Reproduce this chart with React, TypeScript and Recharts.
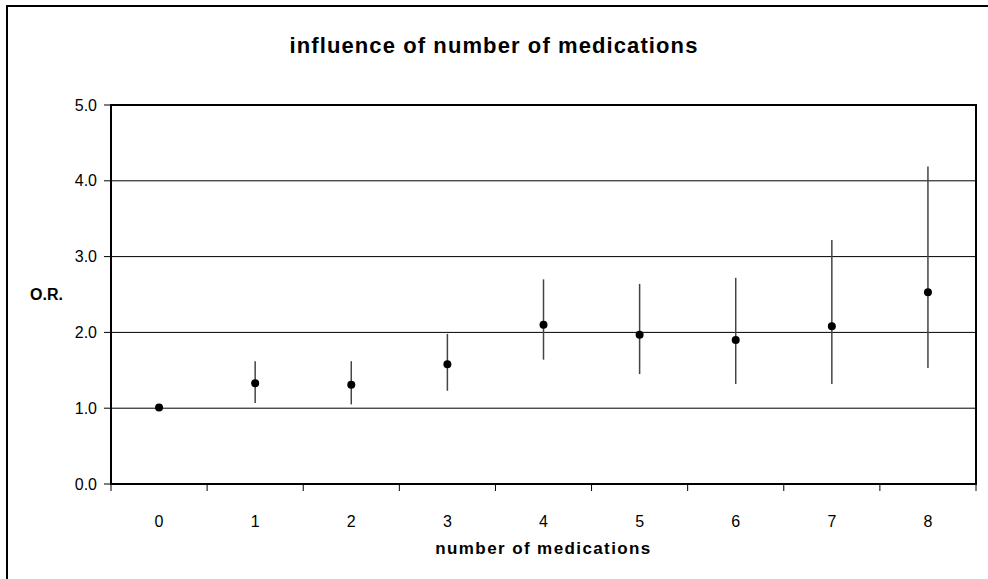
import React from 'react';
import {
  ComposedChart,
  Scatter,
  XAxis,
  YAxis,
  CartesianGrid,
  ErrorBar,
  ReferenceArea,
  Customized,
} from 'recharts';

const categories = [0, 1, 2, 3, 4, 5, 6, 7, 8];
const oddsRatio = [1.01, 1.33, 1.31, 1.58, 2.1, 1.97, 1.9, 2.08, 2.53];
const lowerCI = [1.01, 1.07, 1.05, 1.23, 1.64, 1.45, 1.32, 1.32, 1.53];
const upperCI = [1.01, 1.62, 1.62, 1.98, 2.7, 2.64, 2.72, 3.22, 4.19];
const yTicks = [0, 1, 2, 3, 4, 5];
const boundaryTicks = [-0.5, 0.5, 1.5, 2.5, 3.5, 4.5, 5.5, 6.5, 7.5, 8.5];

const title = 'influence of number of medications';
const xTitle = 'number of medications';
const yTitle = 'O.R.';

const data = categories.map((c, i) => ({
  x: c,
  y: oddsRatio[i],
  err: [oddsRatio[i] - lowerCI[i], upperCI[i] - oddsRatio[i]],
}));

const FONT = '"Liberation Sans", Arial, Helvetica, sans-serif';

const Dot = (props: any) => <circle cx={props.cx} cy={props.cy} r={4} fill="#000" />;

const EmptyTick = () => <g />;

const Title = () => (
  <text
    x={494}
    y={53}
    textAnchor="middle"
    fontFamily={FONT}
    fontSize={22}
    fontWeight="bold"
    letterSpacing={1.1}
    fill="#000"
  >
    {title}
  </text>
);

export default function App() {
  return (
    <div style={{ position: 'absolute', left: 0, top: 0, width: 988, height: 579, background: '#fff' }}>
      <div
        style={{
          position: 'absolute',
          left: 6,
          top: 5,
          width: 982,
          height: 574,
          borderLeft: '2px solid #000',
          borderTop: '2px solid #000',
          boxSizing: 'border-box',
        }}
      />
      <div style={{ position: 'absolute', left: 0, top: 0 }}>
        <ComposedChart
          width={988}
          height={579}
          data={data}
          margin={{ top: 105, right: 12, bottom: 25, left: 21 }}
          style={{ fontFamily: FONT }}
        >
          <Customized component={Title} />
          <CartesianGrid horizontal vertical={false} stroke="#000" strokeWidth={1} yAxisId="l" xAxisId="b" />
          <XAxis
            xAxisId="b"
            type="number"
            dataKey="x"
            domain={[-0.5, 8.5]}
            ticks={boundaryTicks}
            interval={0}
            tick={<EmptyTick />}
            tickSize={7}
            height={8}
            axisLine={{ stroke: '#000', strokeWidth: 2 }}
            tickLine={{ stroke: '#000', strokeWidth: 1 }}
            allowDataOverflow
          />
          <XAxis
            xAxisId="lab"
            type="number"
            dataKey="x"
            domain={[-0.5, 8.5]}
            ticks={categories}
            interval={0}
            axisLine={false}
            tickLine={false}
            tickSize={22}
            tickMargin={2}
            height={62}
            tick={{ fill: '#000', fontSize: 16, fontFamily: FONT }}
            allowDataOverflow
            label={{
              value: xTitle,
              position: 'insideBottom',
              offset: 0,
              fill: '#000',
              fontSize: 17,
              fontWeight: 'bold',
              fontFamily: FONT,
              letterSpacing: 1.4,
            }}
          />
          <YAxis
            yAxisId="l"
            type="number"
            domain={[0, 5]}
            ticks={yTicks}
            width={90}
            tickSize={7}
            tickMargin={7}
            tickFormatter={(v: number) => v.toFixed(1)}
            axisLine={{ stroke: '#000', strokeWidth: 2 }}
            tickLine={{ stroke: '#000', strokeWidth: 1 }}
            tick={{ fill: '#000', fontSize: 16, fontFamily: FONT }}
            label={{
              value: yTitle,
              position: 'insideLeft',
              offset: 9,
              fill: '#000',
              fontSize: 16,
              fontWeight: 'bold',
              fontFamily: FONT,
            }}
          />
          <ReferenceArea
            xAxisId="b"
            yAxisId="l"
            x1={-0.5}
            x2={8.5}
            y1={0}
            y2={5}
            fill="none"
            fillOpacity={0}
            stroke="#000"
            strokeWidth={2}
          />
          <Scatter xAxisId="b" yAxisId="l" dataKey="y" shape={<Dot />} isAnimationActive={false}>
            <ErrorBar dataKey="err" direction="y" width={0} stroke="#444" strokeWidth={1.5} />
          </Scatter>
        </ComposedChart>
      </div>
    </div>
  );
}
